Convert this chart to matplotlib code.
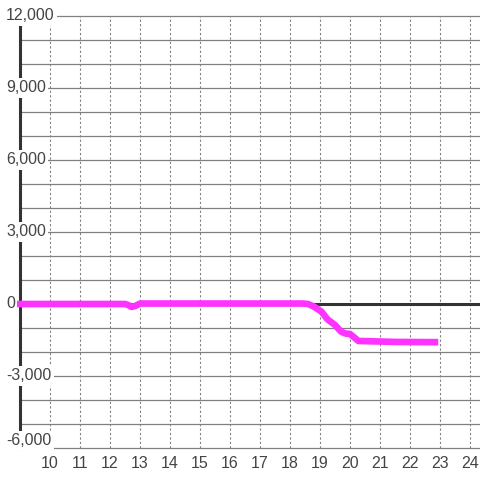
import matplotlib
matplotlib.use("Agg")
import matplotlib.pyplot as plt
import matplotlib.transforms as mtransforms

plt.rcParams["font.family"] = ["Liberation Sans", "DejaVu Sans"]

# ── data ───────────────────────────────────────────────────────────────────
series_x = [9, 12.5, 12.6, 12.72, 12.85, 13.0, 18.4, 18.6, 18.8, 19.05,
            19.25, 19.5, 19.7, 19.85, 20.0, 20.1, 20.28, 20.6, 21.5, 22.83]
series_y = [0, 0, -40, -120, -80, 20, 20, 0, -110, -320,
            -640, -875, -1150, -1230, -1250, -1350, -1540, -1550, -1580, -1590]

x_ticks = list(range(10, 25))
y_grid = list(range(-6000, 12001, 1000))
y_labels = [12000, 9000, 6000, 3000, 0, -3000, -6000]

TEXT = "#444444"
DARK = "#333333"
GRID = "#808080"
MAGENTA = "#ff33ff"

fig = plt.figure(figsize=(4.8, 4.8), dpi=100)
ax = fig.add_axes([20 / 480, 32 / 480, 460 / 480, 432 / 480])
ax.set_xlim(9, 9 + 460 / 30)
ax.set_ylim(-6000, 12000)

for s in ["top", "right", "bottom"]:
    ax.spines[s].set_visible(False)
ax.spines["left"].set_color(DARK)
ax.spines["left"].set_linewidth(2.2)

# grid
for v in y_grid:
    ax.axhline(v, color=GRID, linewidth=0.9, zorder=1, clip_on=False)
for v in x_ticks:
    ax.axvline(v, color=GRID, linewidth=0.8, linestyle=(0, (2, 2)), zorder=1)
ax.axhline(0, color=DARK, linewidth=2.2, zorder=2)

ax.plot(series_x, series_y, color=MAGENTA, linewidth=4.8,
        solid_capstyle="projecting", solid_joinstyle="round",
        zorder=4, clip_on=False)

ax.set_xticks(x_ticks)
ax.set_xticklabels([str(v) for v in x_ticks])
ax.set_yticks([])
ax.tick_params(axis="x", length=0, pad=6, labelsize=11.5, labelcolor=TEXT)

trans = mtransforms.blended_transform_factory(ax.transAxes, ax.transData)
for v in y_labels:
    va = "bottom" if v == -6000 else "center"
    ax.text(-14 / 460, v, f"{v:,}", transform=trans, ha="left", va=va,
            fontsize=11.5, color=TEXT, zorder=10, clip_on=False,
            bbox=dict(boxstyle="square,pad=0.15", facecolor="white",
                      edgecolor="none"))

fig.savefig("out.png", dpi=100)
